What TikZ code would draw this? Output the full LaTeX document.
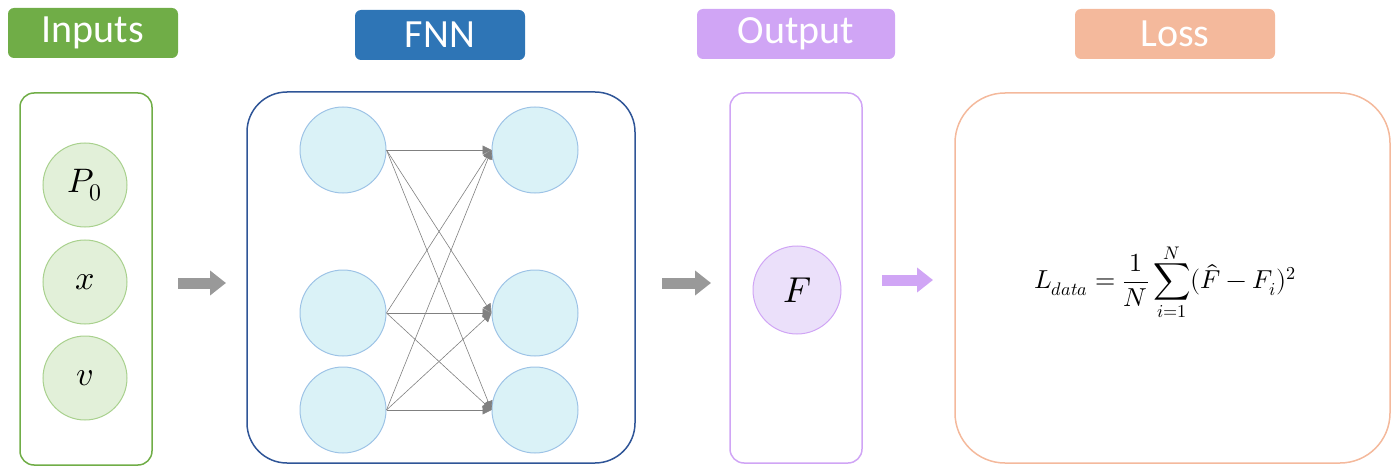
\documentclass[tikz,border=0pt]{standalone}
\usepackage{amsmath}
\usepackage{fontspec}
\usepackage{unicode-math}
\setmainfont{Carlito}
\setmathfont{Latin Modern Math}
\usetikzlibrary{arrows.meta}
\definecolor{gA}{HTML}{70AD47}\definecolor{gL}{HTML}{E2F0D9}\definecolor{gB}{HTML}{A9D18E}
\definecolor{bA}{HTML}{2E75B6}\definecolor{bD}{HTML}{2F5597}\definecolor{bL}{HTML}{DAF2F7}\definecolor{bB}{HTML}{9DC3E6}
\definecolor{pA}{HTML}{D0A5F5}\definecolor{pL}{HTML}{EBE0FA}
\definecolor{oA}{HTML}{F4B99C}
\begin{document}
\begin{tikzpicture}[x=1pt,y=-1pt,
 title/.style={rounded corners=6pt,minimum width=#1,minimum height=50pt,text=white,font=\fontsize{40}{40}\selectfont,inner sep=0pt},
 panel/.style={rounded corners=#1,line width=1.5pt},
 inp/.style={circle,minimum size=84pt,fill=gL,draw=gB,line width=1pt,font=\fontsize{34}{34}\selectfont},
 neu/.style={circle,minimum size=86pt,fill=bL,draw=bB,line width=1pt},
 conn/.style={gray,-{Triangle[length=9pt,width=9pt]},line width=0.6pt},
 bigarrow/.style={-{Triangle[length=16pt,width=24pt]},line width=11pt}]
\useasboundingbox (0,0) rectangle (1398,468);
\node[title=170pt,fill=gA] (t1) at (93,33) {Inputs};
\node[title=170pt,fill=bA] (t2) at (440,35) {FNN};
\node[title=198pt,fill=pA] (t3) at (796,34) {Output};
\node[title=200pt,fill=oA] (t4) at (1175,34) {Loss};
\draw[panel=14pt,draw=gA] (20,93) rectangle (152,465);
\node[inp] (p0) at (85,185) {$P_0$};
\node[inp] (x) at (85,282) {$x$};
\node[inp] (v) at (85,378) {$v$};
\coordinate (a1s) at (178,283); \coordinate (a1e) at (226,283);
\draw[bigarrow,gray!80] (a1s) -- (a1e);
\draw[panel=40pt,draw=bD] (247,92) rectangle (635,463);
\foreach \i/\y in {1/150,2/313,3/410}{
 \node[neu] (l\i) at (343,\y) {};
 \node[neu] (r\i) at (535,\y) {};}
\foreach \i in {1,2,3}{\foreach \j in {1,2,3}{
 \draw[conn] (l\i.east) -- (r\j.west);}}
\coordinate (a2s) at (662,283); \coordinate (a2e) at (711,283);
\draw[bigarrow,gray!80] (a2s) -- (a2e);
\draw[panel=14pt,draw=pA] (730,93) rectangle (862,463);
\node[circle,minimum size=88pt,fill=pL,draw=pA,line width=1pt,font=\fontsize{36}{36}\selectfont] (F) at (797,290) {$F$};
\coordinate (a3s) at (882,280); \coordinate (a3e) at (933,280);
\draw[bigarrow,pA] (a3s) -- (a3e);
\draw[panel=50pt,draw=oA] (955,93) rectangle (1390,463);
\node[font=\fontsize{26}{30}\selectfont] (L) at (1165,282) {$\displaystyle L_{data}=\frac{1}{N}\sum_{i=1}^{N}(\hat{F}-F_i)^2$};
\end{tikzpicture}
\end{document}
